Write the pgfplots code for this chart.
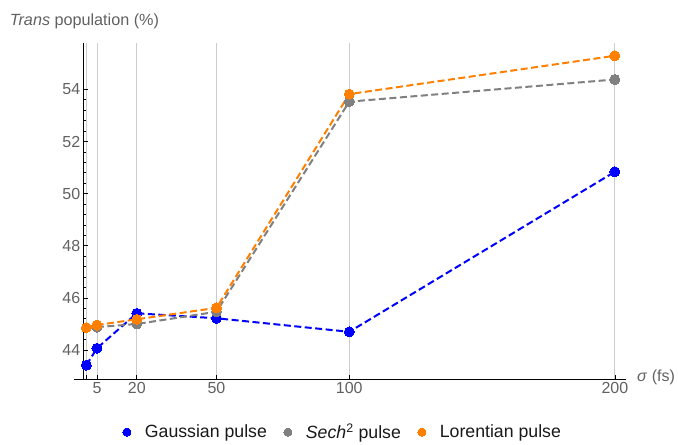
\documentclass[border=0pt]{standalone}
\usepackage{pgfplots}
\pgfplotsset{compat=1.18}
\usepackage{fontspec}
\setmainfont{Liberation Sans}

\definecolor{mmaBlue}{rgb}{0,0,1}
\definecolor{mmaGray}{rgb}{0.5,0.5,0.5}
\definecolor{mmaOrange}{rgb}{1,0.5,0}
\definecolor{labelGray}{rgb}{0.38,0.38,0.38}

\pgfplotsset{
  series/.style={#1, line width=2pt, dash pattern=on 7pt off 3.5pt,
    mark=*, mark size=5pt,
    mark options={solid, fill=#1, draw=#1, line width=0pt}},
  dot/.style={only marks, mark=*, mark size=4pt,
    mark options={solid, fill=#1, draw=#1, line width=0pt}},
}

\begin{document}
\begin{tikzpicture}
\begin{axis}[
  scale only axis,
  width=542.3pt, height=336pt,
  xmin=0, xmax=204.2,
  ymin=42.89, ymax=55.78,
  axis x line=bottom, axis y line=left,
  axis line style={black, line width=0.9pt, -},
  clip=false,
  xtick={1,5,20,50,100,200},
  xticklabels={,5,20,50,100,200},
  ytick={44,46,48,50,52,54},
  minor y tick num=4,
  tick align=inside,
  major tick length=4pt, minor tick length=2.5pt,
  tick style={black, line width=0.7pt},
  xmajorgrids,
  grid style={black!20, line width=0.8pt},
  /pgf/number format/assume math mode=true,
  ticklabel style={font=\fontsize{16}{18}\selectfont, text=labelGray},
  legend columns=3,
  legend style={at={(0.478,-0.158)}, anchor=center, draw=none, fill=none,
    font=\fontsize{17.7}{20}\selectfont, text=black!90,
    /tikz/every odd column/.append style={column sep=12pt},
    /tikz/every even column/.append style={column sep=15pt}},
]
% Gaussian pulse
\addplot[series=mmaBlue, forget plot]
  coordinates {(1,43.42) (5,44.07) (20,45.41) (50,45.22) (100,44.70) (200,50.84)};
% Sech^2 pulse
\addplot[series=mmaGray, forget plot]
  coordinates {(1,44.86) (5,44.88) (20,45.00) (50,45.47) (100,53.53) (200,54.38)};
% Lorentian pulse
\addplot[series=mmaOrange, forget plot]
  coordinates {(1,44.86) (5,44.96) (20,45.18) (50,45.62) (100,53.82) (200,55.29)};

% legend shows a single dot per series
\addlegendimage{dot=mmaBlue}
\addlegendentry{Gaussian pulse}
\addlegendimage{dot=mmaGray}
\addlegendentry{\textit{Sech}\textsuperscript{2} pulse}
\addlegendimage{dot=mmaOrange}
\addlegendentry{Lorentian pulse}

% x axis continues a little to the left of the y axis
\draw[black, line width=0.9pt] (rel axis cs:0,0) -- ++(-10pt,0pt);
% axis titles
\node[anchor=base west, inner sep=0pt, text=labelGray, font=\fontsize{16.2}{19}\selectfont]
  at ([xshift=-74pt, yshift=17pt]rel axis cs:0,1) {\textit{Trans} population (\%)};
\node[anchor=west, inner sep=0pt, text=labelGray, font=\fontsize{16}{18}\selectfont]
  at ([xshift=11pt, yshift=2pt]rel axis cs:1,0) {\textit{σ} (fs)};
% page frame
\path (rel axis cs:0,0) ++(-83.7pt,-61pt) rectangle ++(678pt,440pt);
\end{axis}
\end{tikzpicture}
\end{document}
